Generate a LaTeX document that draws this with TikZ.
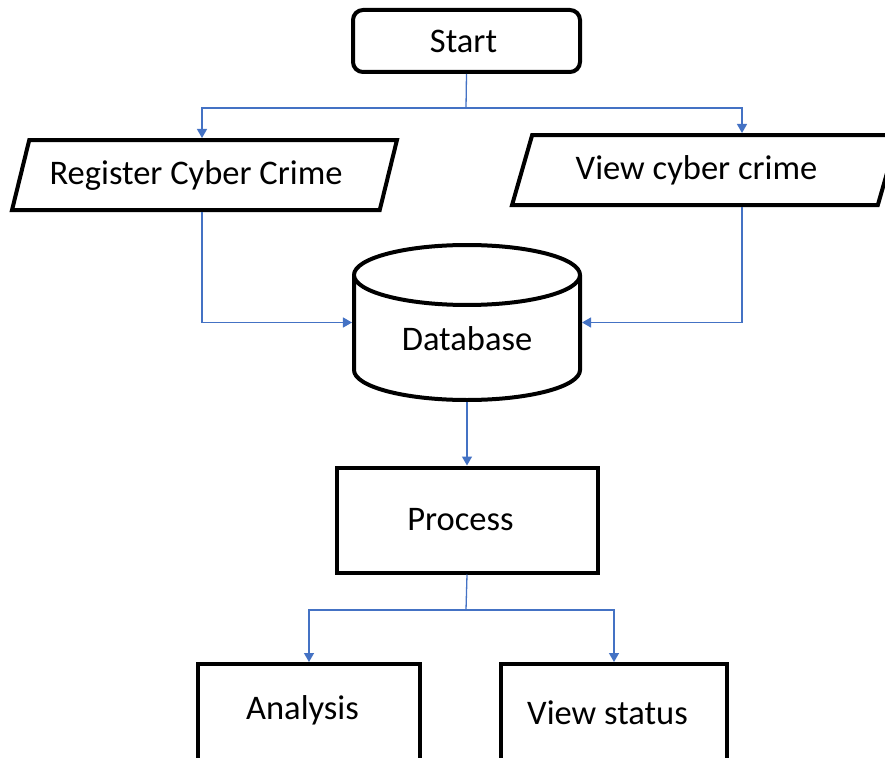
\documentclass[tikz,border=0pt]{standalone}
\usepackage{fontspec}
\setmainfont{Carlito}
\usepackage{tikz}
\usetikzlibrary{shapes.geometric, arrows.meta}
\definecolor{flowblue}{RGB}{68, 114, 196}

\begin{document}
\begin{tikzpicture}[
    x=1pt, y=-1pt,
    every node/.style={font=\fontsize{34.5}{40}\selectfont},
    leftpad/.style={execute at end node={\hspace{#1}}},
    box/.style={draw, line width=4pt, minimum width=261pt, minimum height=105pt, inner sep=0pt, leftpad=13pt},
    io/.style={draw, line width=4pt, trapezium, trapezium left angle=63, trapezium right angle=117, trapezium stretches=true, minimum width=386pt, minimum height=70pt, inner sep=0pt, leftpad=17pt},
    store/.style={draw, line width=4pt, cylinder, shape border rotate=90, aspect=0.46, minimum width=226pt, minimum height=155pt, inner sep=0pt},
    arrow/.style={-{Triangle[length=9pt, width=10pt]}, flowblue, line width=1.3pt},
    line/.style={flowblue, line width=1.3pt}
]
    \useasboundingbox (0,0) rectangle (885,757);
    \clip (0,0) rectangle (885,757);

    % Main entities
    \node[draw, line width=4pt, rounded corners=10pt, minimum width=227pt, minimum height=62pt, leftpad=6pt] (start) at (466.5,41) {Start};
    \node[io] (register) at (204.5,175) {Register Cyber Crime};
    \node[io] (viewcrime) at (705,170) {View cyber crime};
    \node[store, anchor=shape center] (db) at (467,322.5) {Database};
    \node[box] (process) at (467,520) {Process};
    \node[box, anchor=north, minimum width=222pt, text height=55pt, text depth=95pt] (analysis) at (309,662) {Analysis};
    \node[box, anchor=north, minimum width=226pt, text height=60pt, text depth=90pt] (status) at (614,662) {View status};

    % Branch points
    \coordinate (split) at (466,108);
    \coordinate (rx) at (202,0);
    \coordinate (vx) at (742,0);
    \coordinate (fork) at (466,610);

    % Relationships
    \draw[line] (start.south) -- (split);
    \draw[arrow] (split) -| (rx |- register.north);
    \draw[arrow] (split) -| (vx |- viewcrime.north);
    \draw[arrow] (rx |- register.south) |- (db.west |- db.shape center);
    \draw[arrow] (vx |- viewcrime.south) |- (db.east |- db.shape center);
    \draw[arrow] (db.south) -- (process.north);
    \draw[line] (process.south) -- (fork);
    \draw[arrow] (fork) -| (analysis.north);
    \draw[arrow] (fork) -| (status.north);
\end{tikzpicture}
\end{document}
